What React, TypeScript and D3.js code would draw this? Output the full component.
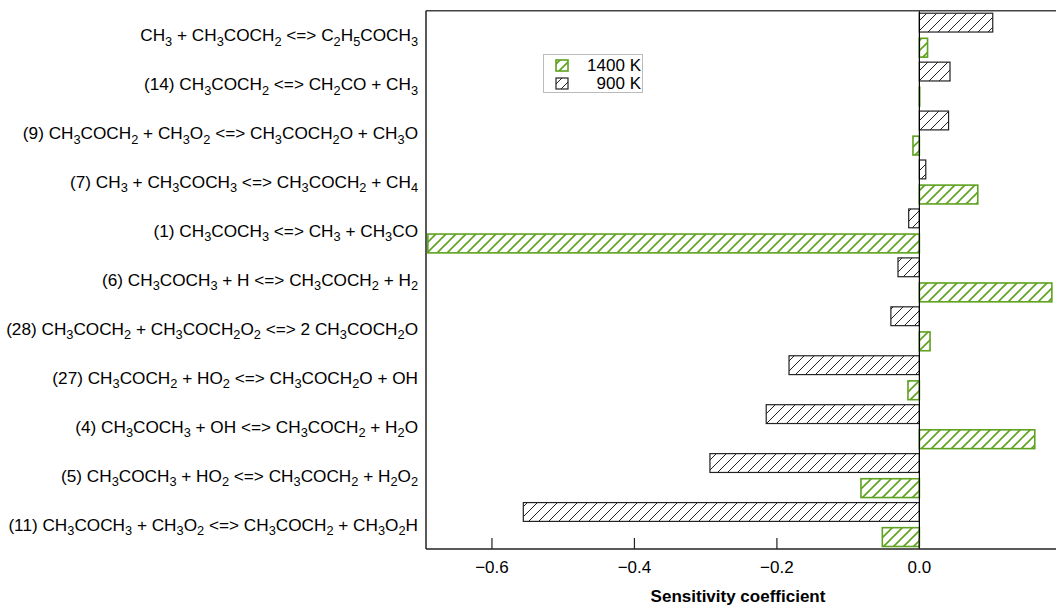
import React from "react";
import * as d3 from "d3";

const reactions: string[] = [
  "CH_3 + CH_3COCH_2 <=> C_2H_5COCH_3",
  "(14) CH_3COCH_2 <=> CH_2CO + CH_3",
  "(9) CH_3COCH_2 + CH_3O_2 <=> CH_3COCH_2O + CH_3O",
  "(7) CH_3 + CH_3COCH_3 <=> CH_3COCH_2 + CH_4",
  "(1) CH_3COCH_3 <=> CH_3 + CH_3CO",
  "(6) CH_3COCH_3 + H <=> CH_3COCH_2 + H_2",
  "(28) CH_3COCH_2 + CH_3COCH_2O_2 <=> 2 CH_3COCH_2O",
  "(27) CH_3COCH_2 + HO_2 <=> CH_3COCH_2O + OH",
  "(4) CH_3COCH_3 + OH <=> CH_3COCH_2 + H_2O",
  "(5) CH_3COCH_3 + HO_2 <=> CH_3COCH_2 + H_2O_2",
  "(11) CH_3COCH_3 + CH_3O_2 <=> CH_3COCH_2 + CH_3O_2H",
];

const values900: number[] = [0.103, 0.043, 0.041, 0.009, -0.015, -0.03, -0.04, -0.183, -0.215, -0.294, -0.556];
const values1400: number[] = [0.0115, 0.0005, -0.009, 0.082, -0.69, 0.186, 0.015, -0.016, 0.162, -0.082, -0.052];

const xTicks: number[] = [-0.6, -0.4, -0.2, 0.0];
const seriesNames: string[] = ["900 K", "1400 K"];
const legendLabels: string[] = ["1400 K", "900 K"];

const W = 1056;
const H = 605;
const left = 426;
const right = 1055;
const top = 10.7;
const bottom = 549;

const GREEN = "#5ea21f";
const BLACK = "#222";
const FONT = "'Liberation Sans', Arial, sans-serif";

function Label({ text, x, y }: { text: string; x: number; y: number }) {
  const parts: { t: string; sub: boolean }[] = [];
  let buf = "";
  for (let i = 0; i < text.length; i++) {
    const c = text[i];
    if (c === "_" && i + 1 < text.length) {
      if (buf) parts.push({ t: buf, sub: false });
      buf = "";
      parts.push({ t: text[i + 1], sub: true });
      i++;
    } else {
      buf += c;
    }
  }
  if (buf) parts.push({ t: buf, sub: false });
  return (
    <text x={x} y={y} textAnchor="end" fontFamily={FONT} fontSize={17.2} fill="#000">
      {parts.map((p, i) =>
        p.sub ? (
          <tspan key={i} fontSize={12.8} dy={4.5}>
            {p.t}
          </tspan>
        ) : (
          <tspan key={i} dy={i > 0 && parts[i - 1].sub ? -4.5 : 0}>
            {p.t}
          </tspan>
        )
      )}
    </text>
  );
}

export default function App() {
  const x = d3.scaleLinear().domain([-0.6926, 0.1904]).range([left, right]);
  const y = d3.scaleBand<string>().domain(reactions).range([top, bottom]).paddingInner(0);
  const inner = d3
    .scaleBand<string>()
    .domain(seriesNames)
    .range([0, y.bandwidth()])
    .paddingInner(0.25)
    .paddingOuter(0.1);

  const series = [
    { name: "900 K", values: values900, color: BLACK, fill: "url(#hatchBlack)", sw: 1.2 },
    { name: "1400 K", values: values1400, color: GREEN, fill: "url(#hatchGreen)", sw: 1.6 },
  ];

  return (
    <svg width={W} height={H} style={{ position: "absolute", left: 0, top: 0, background: "#fff" }}>
      <defs>
        <pattern id="hatchBlack" patternUnits="userSpaceOnUse" width={10} height={10}>
          <rect width={10} height={10} fill="#fff" />
          <path d="M-2,2 l4,-4 M0,10 l10,-10 M8,12 l4,-4" stroke={BLACK} strokeWidth={1} />
        </pattern>
        <pattern id="hatchGreen" patternUnits="userSpaceOnUse" width={10} height={10}>
          <rect width={10} height={10} fill="#fff" />
          <path d="M-2,2 l4,-4 M0,10 l10,-10 M8,12 l4,-4" stroke={GREEN} strokeWidth={1.6} />
        </pattern>
      </defs>

      {reactions.map((r, i) =>
        series.map((s) => {
          const v = s.values[i];
          const x0 = x(Math.min(0, v));
          const x1 = x(Math.max(0, v));
          const yy = (y(r) ?? 0) + (inner(s.name) ?? 0);
          return (
            <rect
              key={r + s.name}
              x={x0}
              y={yy}
              width={Math.max(0, x1 - x0)}
              height={inner.bandwidth()}
              fill={s.fill}
              stroke={s.color}
              strokeWidth={s.sw}
            />
          );
        })
      )}

      <line x1={x(0)} x2={x(0)} y1={top} y2={bottom} stroke="#000" strokeWidth={1.2} />

      <line x1={left} x2={W} y1={top} y2={top} stroke="#444" strokeWidth={1.5} />
      <line x1={left} x2={left} y1={top} y2={bottom} stroke="#222" strokeWidth={1.5} />
      <line x1={left} x2={W} y1={bottom} y2={bottom} stroke="#222" strokeWidth={1.5} />

      {xTicks.map((t) => (
        <g key={t}>
          <line x1={x(t)} x2={x(t)} y1={bottom} y2={bottom - 11} stroke="#222" strokeWidth={1.2} />
          <text x={x(t)} y={573} textAnchor="middle" fontFamily={FONT} fontSize={17} fill="#000">
            {d3.format(".1f")(t)}
          </text>
        </g>
      ))}
      <text x={738} y={602} textAnchor="middle" fontFamily={FONT} fontSize={17} fontWeight="bold" fill="#000">
        Sensitivity coefficient
      </text>

      {reactions.map((r) => (
        <Label key={r} text={r} x={418} y={(y(r) ?? 0) + y.bandwidth() / 2 + 6} />
      ))}

      <rect x={543.5} y={54.5} width={99} height={38} fill="#fff" stroke="#bbb" strokeWidth={1} />
      {legendLabels.map((l, i) => {
        const s = series.find((ss) => ss.name === l)!;
        const yy = 60 + i * 18;
        return (
          <g key={l}>
            <rect x={556} y={yy} width={12} height={11} fill={s.fill} stroke={s.color} strokeWidth={s.sw} />
            <text x={641} y={yy + 11} textAnchor="end" fontFamily={FONT} fontSize={17} fill="#000">
              {l}
            </text>
          </g>
        );
      })}
    </svg>
  );
}
